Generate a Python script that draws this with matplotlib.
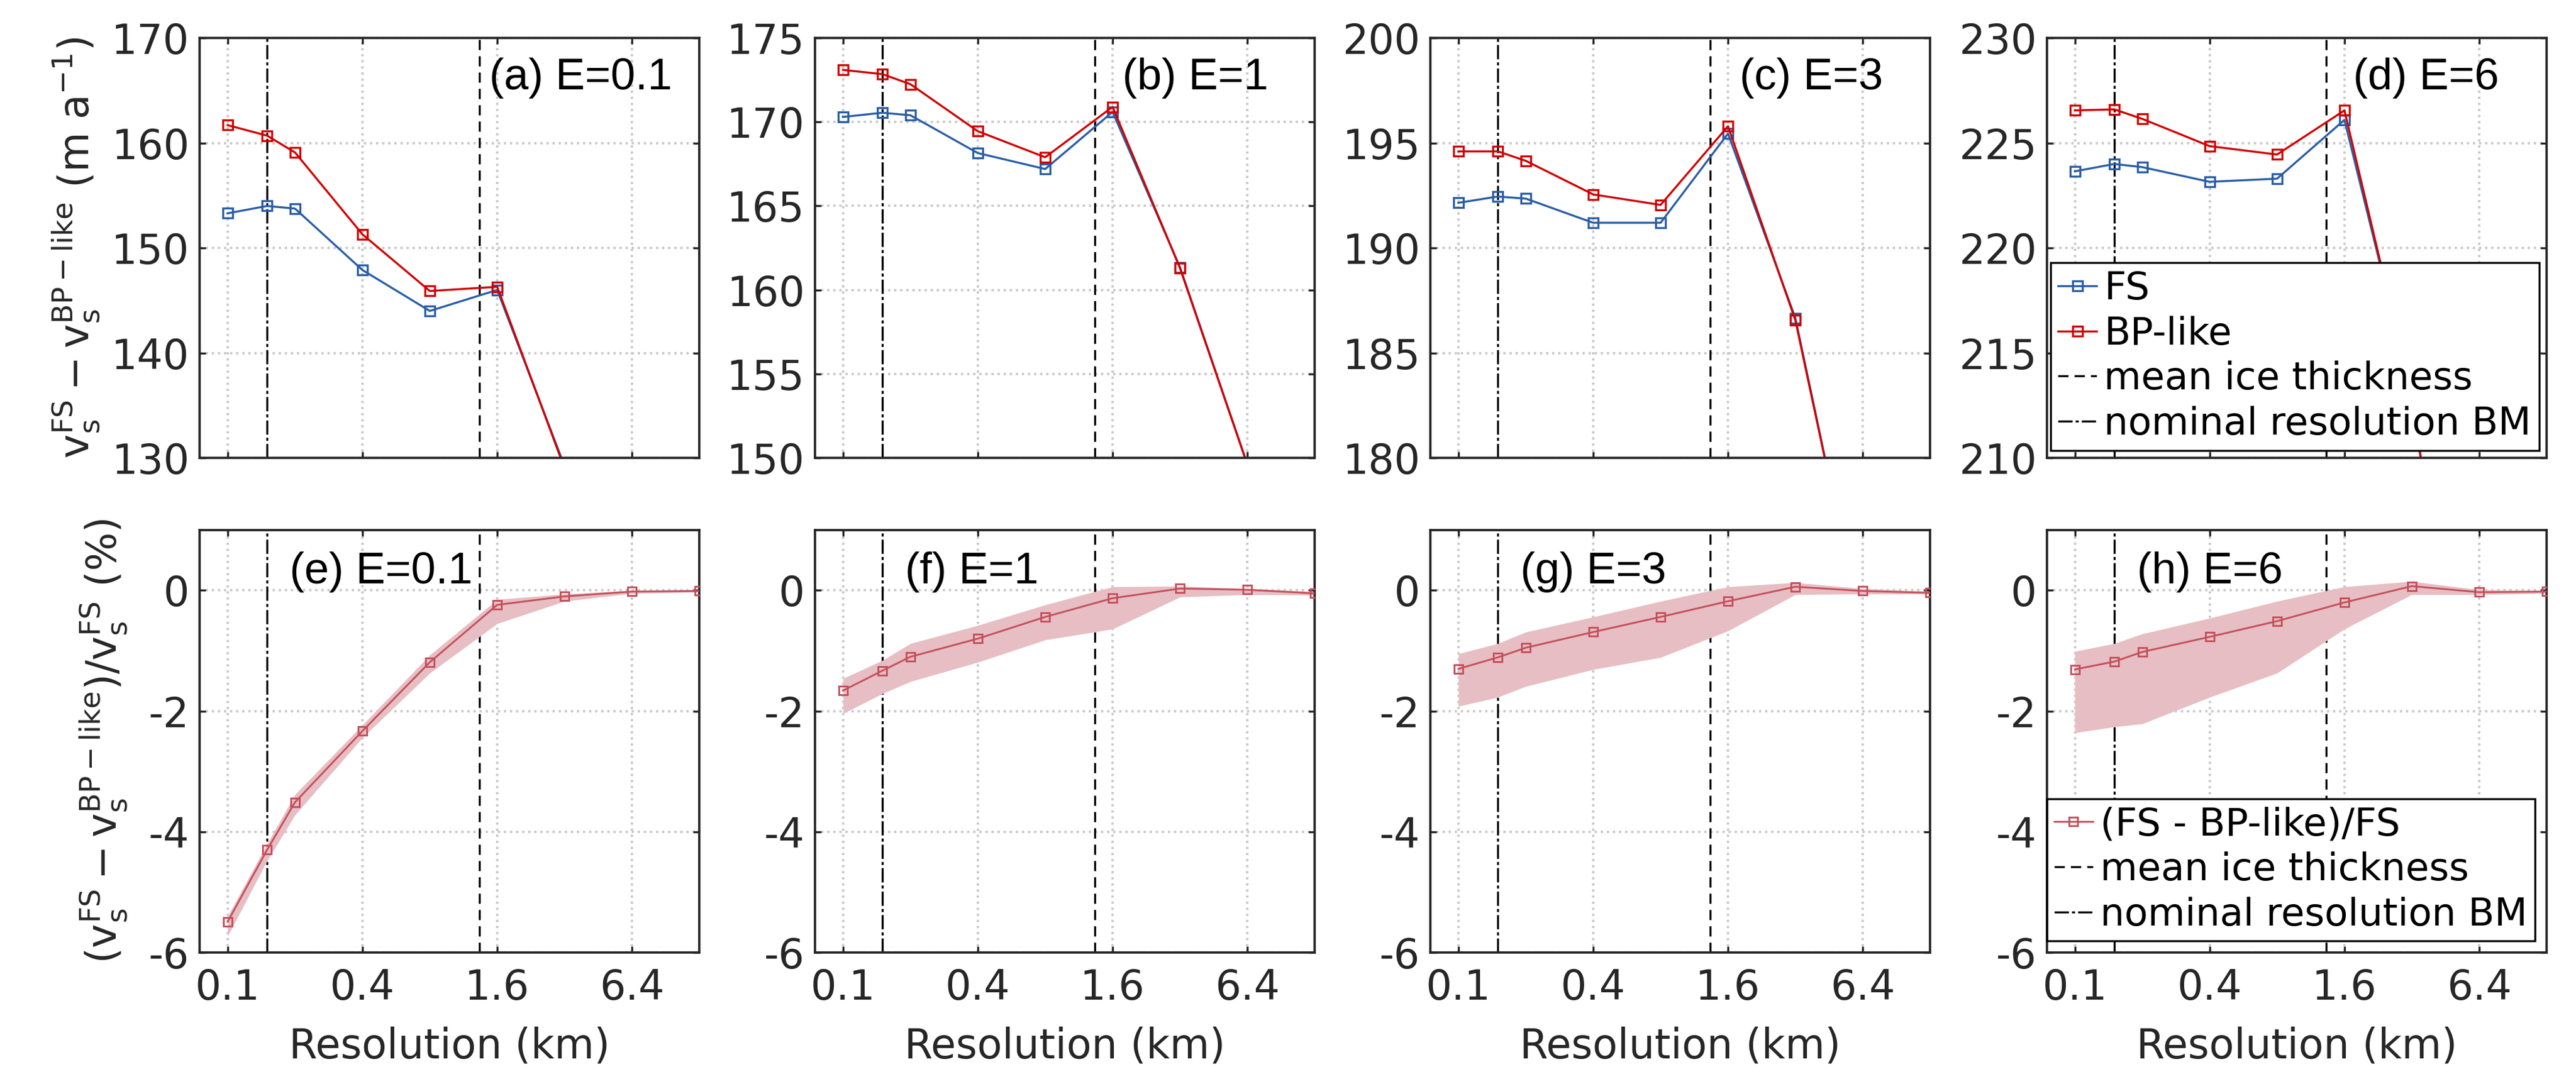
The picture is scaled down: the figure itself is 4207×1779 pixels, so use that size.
import matplotlib
matplotlib.use("Agg")
import matplotlib.pyplot as plt
from matplotlib.ticker import FixedLocator, NullFormatter

# grid resolutions (km)
res = [0.1, 0.15, 0.2, 0.4, 0.8, 1.6, 3.2, 6.4, 12.8]
mean_thick = 1.33      # mean ice thickness (km)
nominal_bm = 0.15      # nominal resolution BedMachine (km)

panel_top = ["(a) E=0.1", "(b) E=1", "(c) E=3", "(d) E=6"]
panel_bot = ["(e) E=0.1", "(f) E=1", "(g) E=3", "(h) E=6"]

# surface velocity FS and BP-like (m/a); values past the lower limit are off-scale
fs_a = [153.3, 154.0, 153.75, 147.9, 144.0, 146.0, 129.2, 118.0, 100.0]
bp_a = [161.7, 160.7, 159.1, 151.3, 145.9, 146.3, 129.0, 117.8, 99.8]
fs_b = [170.3, 170.55, 170.4, 168.15, 167.2, 170.6, 161.35, 149.6, 135.0]
bp_b = [173.1, 172.85, 172.25, 169.45, 167.9, 170.9, 161.3, 149.6, 135.0]
fs_c = [192.15, 192.45, 192.35, 191.2, 191.2, 195.45, 186.65, 171.5, 155.0]
bp_c = [194.6, 194.6, 194.15, 192.55, 192.05, 195.8, 186.55, 171.5, 155.0]
fs_d = [223.65, 224.0, 223.85, 223.15, 223.3, 226.1, 213.1, 190.0, 170.0]
bp_d = [226.55, 226.6, 226.15, 224.85, 224.45, 226.55, 213.0, 190.0, 170.0]

ylims_top = [(130, 170), (150, 175), (180, 200), (210, 230)]
ystep_top = [10, 5, 5, 5]

# relative difference (%) : mean, upper and lower envelope
rel_e = [-5.49, -4.30, -3.51, -2.33, -1.19, -0.24, -0.10, -0.02, -0.01]
hi_e = [-5.40, -4.20, -3.38, -2.23, -1.07, -0.15, -0.06, 0.00, 0.00]
lo_e = [-5.73, -4.48, -3.72, -2.44, -1.37, -0.55, -0.18, -0.05, -0.03]
rel_f = [-1.66, -1.33, -1.10, -0.80, -0.44, -0.13, 0.03, 0.01, -0.05]
hi_f = [-1.46, -1.16, -0.88, -0.58, -0.24, 0.06, 0.07, 0.03, -0.02]
lo_f = [-2.04, -1.71, -1.51, -1.19, -0.82, -0.64, -0.11, -0.07, -0.08]
rel_g = [-1.30, -1.11, -0.95, -0.69, -0.44, -0.18, 0.06, -0.01, -0.04]
hi_g = [-1.05, -0.88, -0.69, -0.44, -0.18, 0.06, 0.13, 0.03, -0.02]
lo_g = [-1.92, -1.77, -1.59, -1.31, -1.11, -0.67, -0.07, -0.06, -0.06]
rel_h = [-1.31, -1.18, -1.02, -0.77, -0.51, -0.20, 0.07, -0.03, -0.02]
hi_h = [-1.01, -0.88, -0.72, -0.46, -0.18, 0.06, 0.15, 0.01, -0.01]
lo_h = [-2.36, -2.26, -2.21, -1.77, -1.37, -0.64, -0.07, -0.07, -0.05]

xticks = [0.1, 0.4, 1.6, 6.4]
xticklabels = ["0.1", "0.4", "1.6", "6.4"]

top_series = [(fs_a, bp_a), (fs_b, bp_b), (fs_c, bp_c), (fs_d, bp_d)]
bot_series = [(rel_e, hi_e, lo_e), (rel_f, hi_f, lo_f), (rel_g, hi_g, lo_g), (rel_h, hi_h, lo_h)]

c_fs = "#2a5ea6"
c_bp = "#d00000"
c_rel = "#c4505a"
c_band = "#e6bec4"
c_ax = "#262626"

plt.rcParams["font.family"] = "DejaVu Sans"
plt.rcParams["mathtext.fontset"] = "dejavusans"
plt.rcParams["axes.unicode_minus"] = False

fig = plt.figure(figsize=(4207 / 300, 1779 / 300), dpi=300)

lefts = [0.0775, 0.3164, 0.5553, 0.7946]
width = 0.194
top_row = (0.5795, 0.3856)
bot_row = (0.1253, 0.388)


def style(ax):
    ax.set_xscale("log")
    ax.set_xlim(0.075, 12.8)
    ax.xaxis.set_major_locator(FixedLocator(xticks))
    ax.xaxis.set_minor_locator(FixedLocator([]))
    ax.grid(True, ls=":", color="#c8c8c8", lw=0.9)
    ax.tick_params(direction="in", top=True, right=True, length=2.5, width=0.8,
                   labelsize=16, colors=c_ax, pad=4)
    ax.tick_params(axis="x", pad=6)
    for s in ax.spines.values():
        s.set_linewidth(0.9)
        s.set_color(c_ax)
    ax.set_axisbelow(True)


def vlines(ax):
    h1 = ax.axvline(mean_thick, color="k", ls=(0, (5, 3)), lw=0.8, label="mean ice thickness")
    h2 = ax.axvline(nominal_bm, color="k", ls=(0, (7, 1.5, 1.5, 1.5)), lw=0.8,
                    label="nominal resolution BM")
    return h1, h2


txt_x = [0.58, 0.615, 0.618, 0.613]

for i in range(4):
    ax = fig.add_axes([lefts[i], top_row[0], width, top_row[1]])
    style(ax)
    h1, h2 = vlines(ax)
    fs, bp = top_series[i]
    l1, = ax.plot(res, fs, "-s", color=c_fs, lw=0.8, ms=4, mfc="none", mew=0.8, label="FS")
    l2, = ax.plot(res, bp, "-s", color=c_bp, lw=0.8, ms=4, mfc="none", mew=0.8, label="BP-like")
    lo, hi = ylims_top[i]
    ax.set_ylim(lo, hi)
    ax.set_yticks(range(lo, hi + 1, ystep_top[i]))
    ax.xaxis.set_major_formatter(NullFormatter())
    ax.text(txt_x[i], 0.905, panel_top[i], transform=ax.transAxes, fontsize=17.3,
            family="Liberation Sans", va="center", ha="left")
    if i == 0:
        ax.set_ylabel(r"$\mathregular{v_s^{FS}-v_s^{BP-like}}$ (m a$^{-1}$)", fontsize=16, color=c_ax)
        ax.yaxis.set_label_coords(-0.195, 0.5)
    if i == 3:
        leg = ax.legend([l1, l2, h1, h2], ["FS", "BP-like", "mean ice thickness", "nominal resolution BM"],
                        loc="lower right", fontsize=15, handlelength=1.0, handletextpad=0.2,
                        labelspacing=0.22, borderpad=0.2, borderaxespad=0.2, fancybox=False,
                        framealpha=1, edgecolor="k")
        leg.get_frame().set_linewidth(0.8)

for i in range(4):
    ax = fig.add_axes([lefts[i], bot_row[0], width, bot_row[1]])
    style(ax)
    h1, h2 = vlines(ax)
    rel, hi, lo = bot_series[i]
    ax.fill_between(res, lo, hi, color=c_band, lw=0, zorder=2)
    l1, = ax.plot(res, rel, "-s", color=c_rel, lw=0.7, ms=3.2, mfc="none", mew=0.7, zorder=3,
                  label="(FS - BP-like)/FS")
    ax.set_ylim(-6, 1)
    ax.set_yticks([-6, -4, -2, 0])
    ax.set_xticklabels(xticklabels)
    ax.set_xlabel("Resolution (km)", fontsize=16, color=c_ax, labelpad=7)
    ax.text(0.18, 0.9, panel_bot[i], transform=ax.transAxes, fontsize=17.3,
            family="Liberation Sans", va="center", ha="left")
    if i == 0:
        ax.set_ylabel(r"$\mathregular{(v_s^{FS}-v_s^{BP-like})/v_s^{FS}}$ (%)", fontsize=16, color=c_ax)
        ax.yaxis.set_label_coords(-0.14, 0.5)
    if i == 3:
        leg = ax.legend([l1, h1, h2], ["(FS - BP-like)/FS", "mean ice thickness", "nominal resolution BM"],
                        loc="lower right", fontsize=15, handlelength=1.0, handletextpad=0.2,
                        labelspacing=0.22, borderpad=0.2, borderaxespad=0.3, fancybox=False,
                        framealpha=1, edgecolor="k")
        leg.get_frame().set_linewidth(0.8)

fig.savefig("out.png", dpi=300)
